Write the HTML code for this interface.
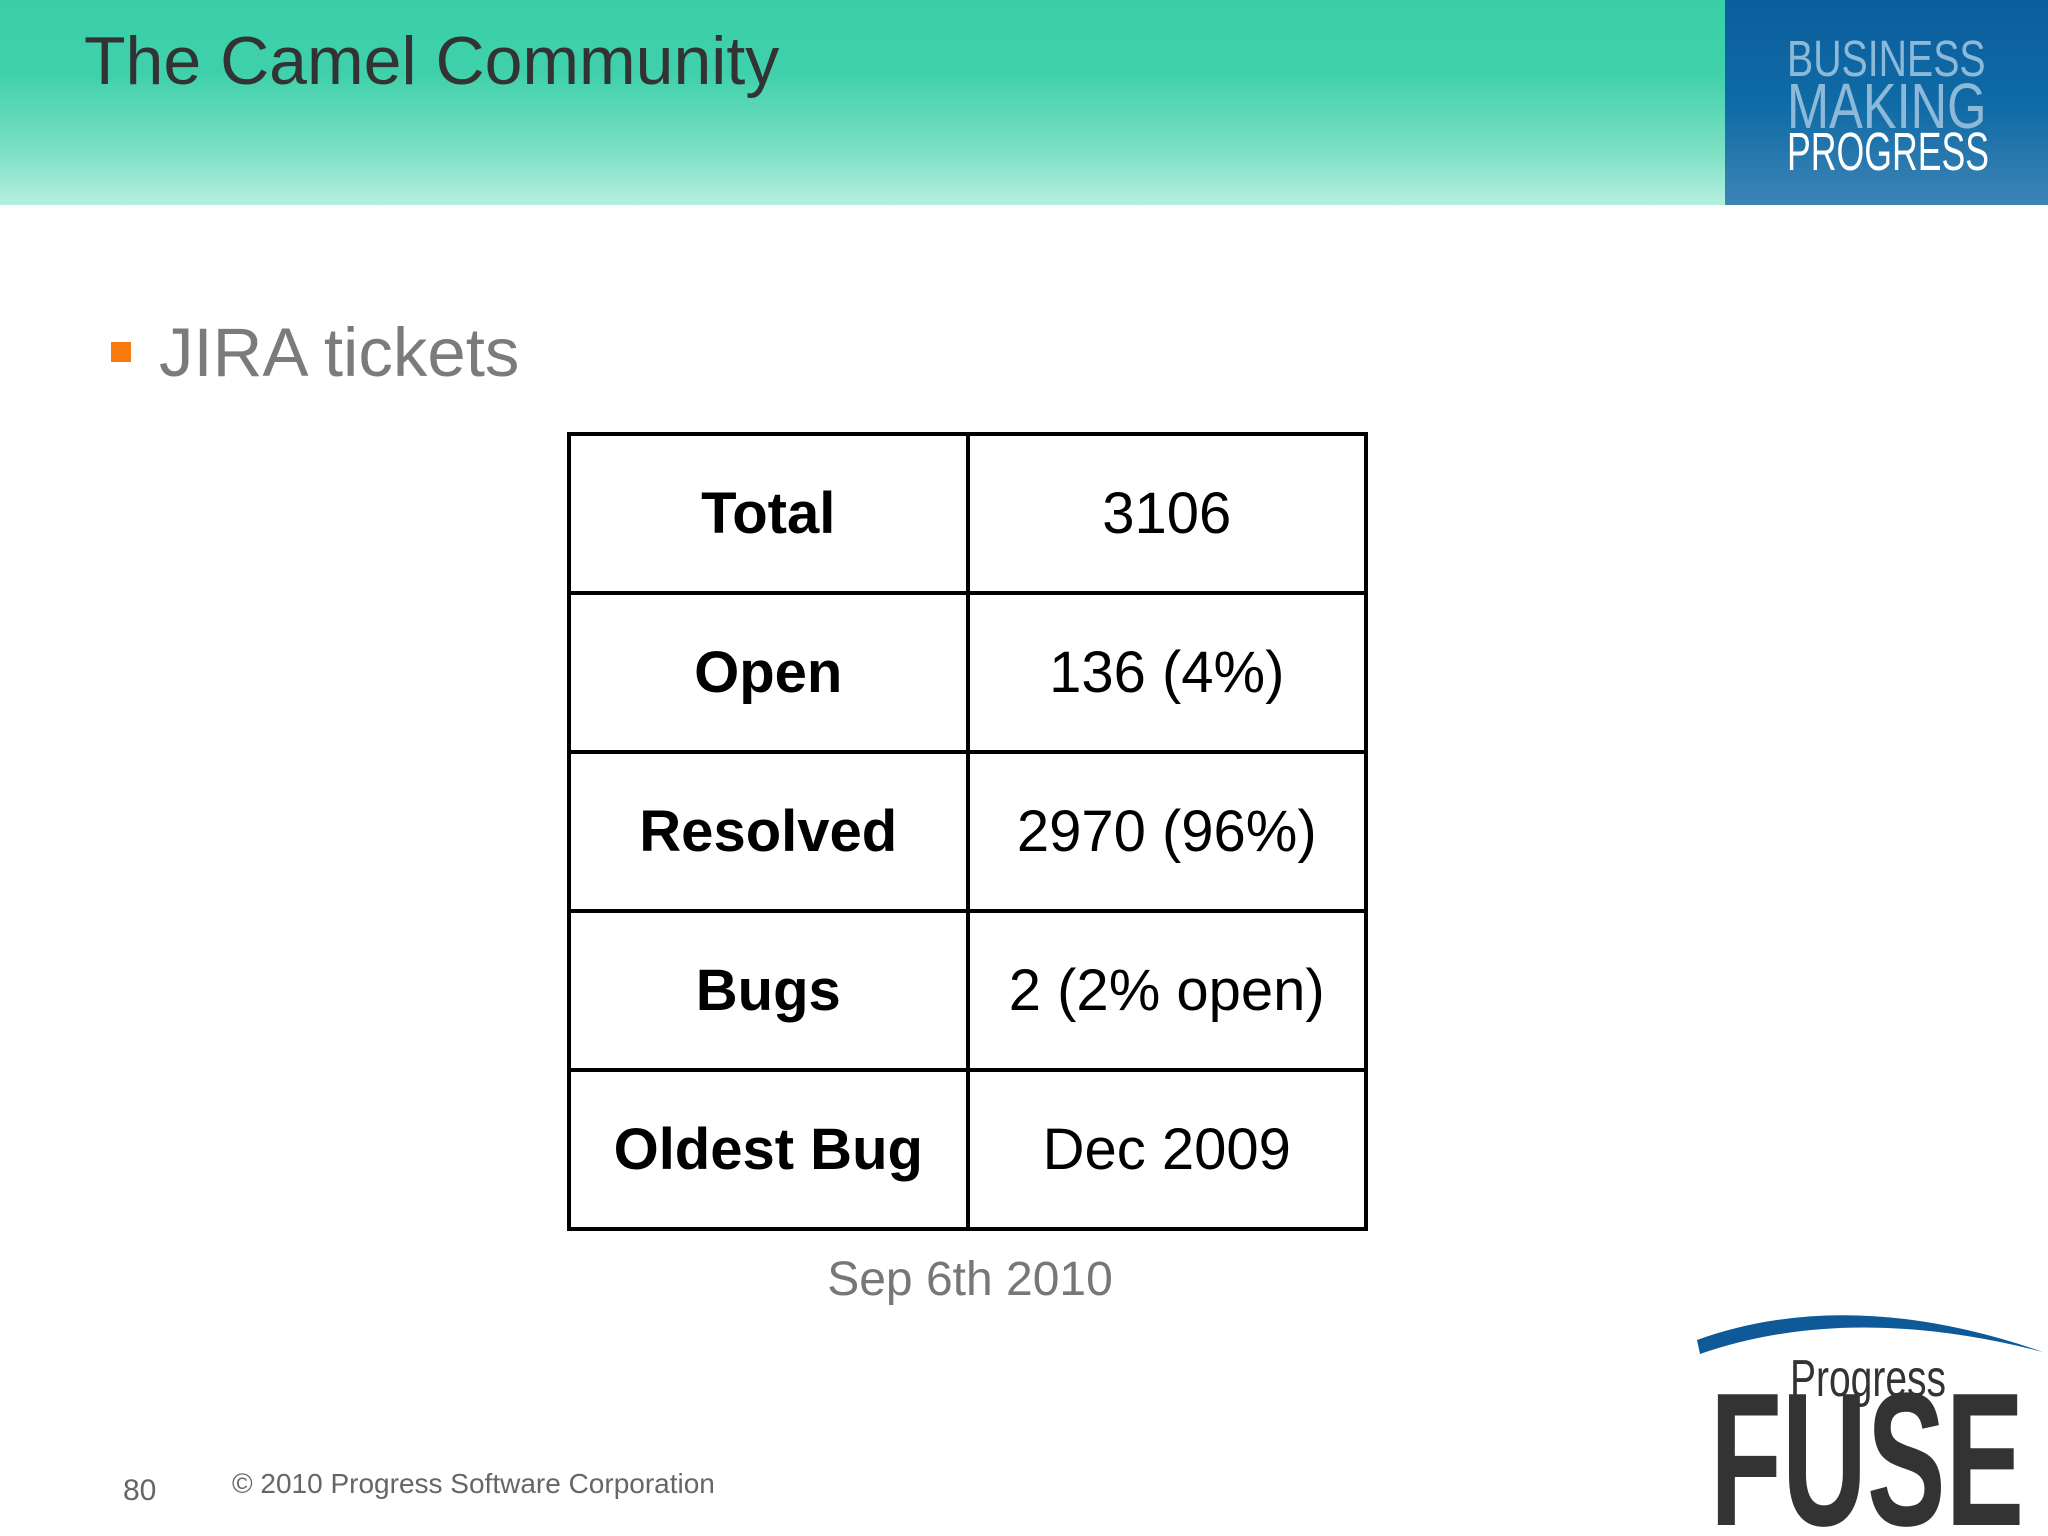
<!DOCTYPE html>
<html><head><meta charset="utf-8"><style>
*{margin:0;padding:0;box-sizing:border-box}
body{width:2048px;height:1536px;position:relative;background:#fff;font-family:"Liberation Sans",sans-serif;overflow:hidden}
.abs{position:absolute}
#hdr{left:0;top:0;width:1725px;height:205px;background:linear-gradient(#3bcfa9 0%,#3ed0aa 35%,#7fe0c5 75%,#b5efdf 100%)}
#blue{left:1725px;top:0;width:323px;height:205px;background:linear-gradient(#0b5e9c 0%,#0f6aa5 50%,#3d84b6 100%)}
.bm{left:1787px;transform-origin:left top;white-space:nowrap}
table{position:absolute;left:567px;top:432px;width:801px;height:798px;border-collapse:collapse}
td{border:4px solid #000;width:50%;text-align:center;font-size:58px;color:#000;height:159px}
td.k{font-weight:bold}
</style></head><body>
<div class="abs" id="hdr"></div>
<div class="abs" id="blue"></div>
<div class="abs bm" style="top:33px;color:#8db9d8;font-size:51px;line-height:51px;transform:scaleX(.77)">BUSINESS</div>
<div class="abs bm" style="top:74px;color:#8db9d8;font-size:64px;line-height:64px;transform:scaleX(.79)">MAKING</div>
<div class="abs bm" style="top:125px;color:#fff;font-size:54px;line-height:54px;transform:scaleX(.66)">PROGRESS</div>
<div class="abs" style="left:84px;top:22px;font-size:68px;color:#333">The Camel Community</div>
<div class="abs" style="left:111px;top:342px;width:20px;height:20px;background:#f97a0c"></div>
<div class="abs" style="left:159px;top:313px;font-size:69px;color:#7b7b7b">JIRA tickets</div>
<table>
<tr><td class="k">Total</td><td>3106</td></tr>
<tr><td class="k">Open</td><td>136 (4%)</td></tr>
<tr><td class="k">Resolved</td><td>2970 (96%)</td></tr>
<tr><td class="k">Bugs</td><td>2 (2% open)</td></tr>
<tr><td class="k">Oldest Bug</td><td>Dec 2009</td></tr>
</table>
<div class="abs" style="left:770px;width:400px;text-align:center;top:1252px;font-size:48px;color:#777">Sep 6th 2010</div>
<div class="abs" style="left:123px;top:1474px;font-size:30px;color:#666">80</div>
<div class="abs" style="left:232px;top:1468px;font-size:28px;color:#666">© 2010 Progress Software Corporation</div>
<svg class="abs" style="left:1650px;top:1290px" width="398" height="246">
<path d="M47 50 Q200 -5 393 62 Q200 12 50 64 Z" fill="#0e5a98"/>
<text x="140" y="106" font-family="Liberation Sans" font-size="52" fill="#333" transform="translate(140 0) scale(.75 1) translate(-140 0)">Progress</text>
<text x="60" y="235" font-family="Liberation Sans" font-weight="bold" font-size="190" fill="#333" transform="translate(60 0) scale(.62 1) translate(-60 0)">FUSE</text>
</svg>
</body></html>
